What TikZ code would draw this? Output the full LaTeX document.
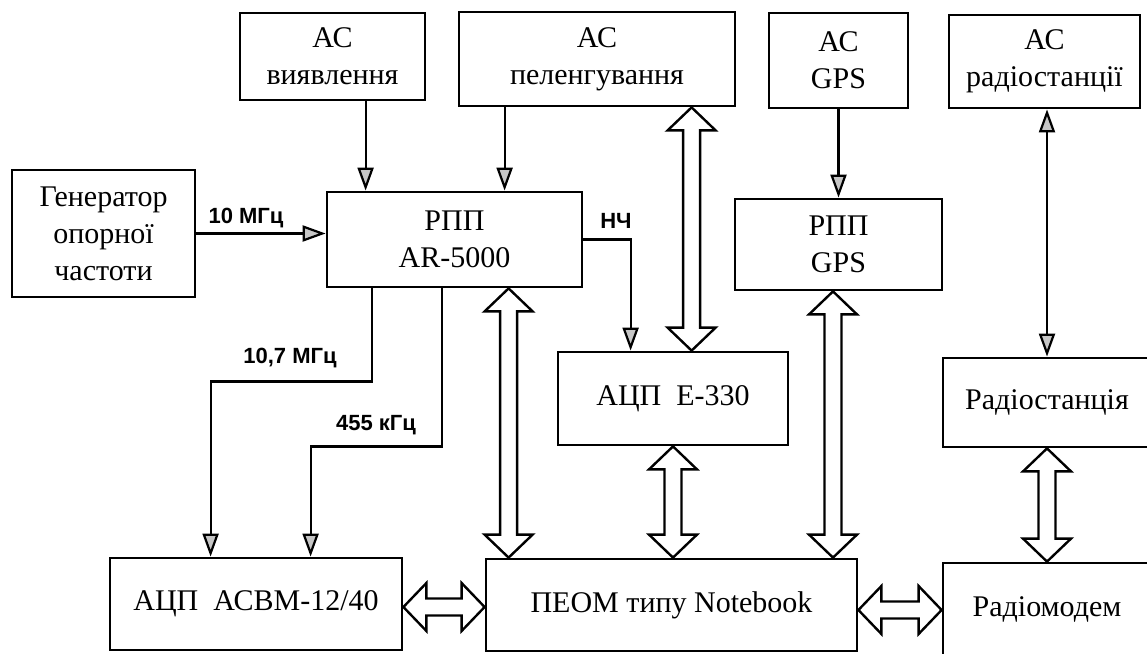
\documentclass[tikz,border=0pt]{standalone}
\usepackage{fontspec}
\setmainfont{Liberation Serif}
\newfontfamily\labfont{Liberation Sans}
\usetikzlibrary{arrows.meta,calc}
\tikzset{
 box/.style={draw, line width=2.8pt, align=center, inner sep=0pt, font=\fontsize{30}{37}\selectfont},
 tip/.tip={Triangle[open, length=23pt, width=16pt, fill=gray!45]},
 sig/.style={line width=2.2pt, -tip},
 sigtwo/.style={line width=2.2pt, tip-tip},
 fat/.style={draw, line width=2.4pt, fill=white, line join=miter},
 lbl/.style={font=\labfont\bfseries\fontsize{22}{24}\selectfont, inner sep=0pt},
}
\newcommand\fatV[2]{\draw[fat] (#1) -- ++(24,23) -- ++(-15.5,0) -- ($(#2)+(8.5,-23)$) -- ++(15.5,0) -- (#2) -- ++(-24,-23) -- ++(15.5,0) -- ($(#1)+(-8.5,23)$) -- ++(-15.5,0) -- cycle;}
\newcommand\fatH[2]{\draw[fat] (#1) -- ++(23,-24) -- ++(0,15.5) -- ($(#2)+(-23,-8.5)$) -- ++(0,-15.5) -- (#2) -- ++(-23,24) -- ++(0,-15.5) -- ($(#1)+(23,8.5)$) -- ++(0,15.5) -- cycle;}
\begin{document}
\begin{tikzpicture}[x=1pt,y=-1pt]
\useasboundingbox (0,0) rectangle (1147,653);
\clip (0,0) rectangle (1147,653);
% boxes
\node[box, minimum width=185pt, minimum height=87pt] (vyav) at (332.5,56.5) {АС\\виявлення};
\node[box, minimum width=276pt, minimum height=94pt] (peleng) at (597,59) {АС\\пеленгування};
\node[box, minimum width=139pt, minimum height=95pt] (acgps) at (838.5,60.5) {АС\\GPS};
\node[box, minimum width=191pt, minimum height=93pt] (acradio) at (1044.5,61.5) {АС\\радіостанції};
\node[box, minimum width=183pt, minimum height=127pt] (gen) at (103.5,233.5) {Генератор\\опорної\\частоти};
\node[box, minimum width=255pt, minimum height=95pt] (rpp) at (454.5,239.5) {РПП\\AR-5000};
\node[box, minimum width=207pt, minimum height=91pt] (rppgps) at (838.5,244.5) {РПП\\GPS};
\node[box, minimum width=230pt, minimum height=93pt] (e330) at (673,398.5) {АЦП\ \ E-330};
\node[box, minimum width=208pt, minimum height=89pt] (radiost) at (1047,402.5) {Радіостанція};
\node[box, minimum width=292pt, minimum height=92pt] (acbm) at (256,604) {АЦП\ \ АСВМ-12/40};
\node[box, minimum width=371pt, minimum height=92pt] (peom) at (671.5,605) {ПЕОМ типу Notebook};
\node[box, minimum width=208pt, minimum height=92pt] (modem) at (1047,609) {Радіомодем};
% thin signal connectors
\draw[sig] (gen.east) -- (gen.east -| rpp.west);
\node[lbl] (l10) at (246,218) {10 МГц};
\coordinate (v1) at ($(vyav.south west)+(127,0)$);
\draw[sig] (v1) -- (v1 |- rpp.north);
\coordinate (p1) at ($(peleng.south west)+(47,0)$);
\draw[sig] (p1) -- (p1 |- rpp.north);
\draw[sig] (rpp.east) -| ($(e330.north west)+(74,0)$);
\node[lbl] (lnch) at (616,221) {НЧ};
\draw[sig] ($(rpp.south west)+(46,0)$) -- ++(0,93) -| ($(acbm.north west)+(102,0)$);
\node[lbl] (l107) at (290,358) {10,7 МГц};
\draw[sig] ($(rpp.south west)+(116,0)$) -- ++(0,158) -| ($(acbm.north west)+(202,0)$);
\node[lbl] (l455) at (376,425) {455 кГц};
\draw[sig] (acgps.south) -- (rppgps.north);
\draw[sigtwo] (radiost.north |- acradio.south) -- (radiost.north);
% wide bus connectors
\coordinate (w1a) at ($(peleng.south west)+(234,0)$);
\coordinate (w1b) at (w1a |- e330.north);
\fatV{w1a}{w1b}
\coordinate (w2a) at ($(rpp.south west)+(183,0)$);
\coordinate (w2b) at (w2a |- peom.north);
\fatV{w2a}{w2b}
\coordinate (w3b) at (e330.south |- peom.north);
\fatV{e330.south}{w3b}
\coordinate (w4a) at ($(rppgps.south)+(-5.5,0)$);
\coordinate (w4b) at (w4a |- peom.north);
\fatV{w4a}{w4b}
\fatV{radiost.south}{modem.north}
\coordinate (h1a) at ($(acbm.east)+(0,3)$);
\coordinate (h1b) at (h1a -| peom.west);
\fatH{h1a}{h1b}
\coordinate (h2a) at ($(peom.east)+(0,5)$);
\coordinate (h2b) at (h2a -| modem.west);
\fatH{h2a}{h2b}
\end{tikzpicture}
\end{document}
